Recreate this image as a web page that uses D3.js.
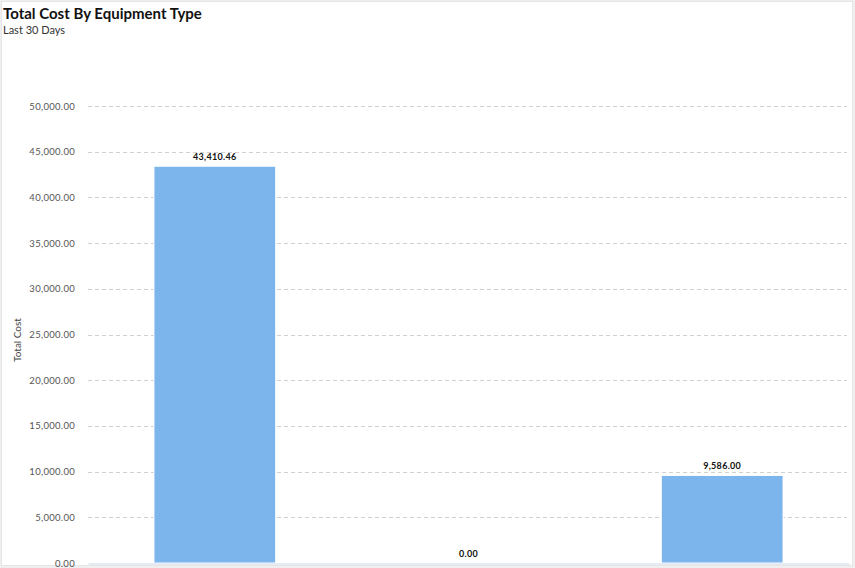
<!DOCTYPE html>
<html>
<head>
<meta charset="utf-8">
<script src="https://cdn.jsdelivr.net/npm/d3@7"></script>
<style>
  html, body { margin: 0; padding: 0; background: #efefef; }
  svg { display: block; font-family: Lato, "Open Sans", sans-serif; }
</style>
</head>
<body>
<svg id="chart" width="855" height="568"></svg>
<script>
// datos del gráfico
var categories = ["Equipment A", "Equipment B", "Equipment C"];
var totalCost = [43410.46, 0, 9586.00];
var yTicks = [0, 5000, 10000, 15000, 20000, 25000, 30000, 35000, 40000, 45000, 50000];

var svg = d3.select("#chart");

// fondo del widget
svg.append("rect")
    .attr("x", 1.5)
    .attr("y", 1.5)
    .attr("width", 851)
    .attr("height", 564)
    .attr("fill", "#ffffff")
    .attr("stroke", "#e6e6e6");

svg.append("text")
    .attr("x", 3)
    .attr("y", 19)
    .attr("font-size", "15px")
    .attr("font-weight", "bold")
    .attr("fill", "#111")
    .text("Total Cost By Equipment Type");

svg.append("text")
    .attr("x", 3)
    .attr("y", 34)
    .attr("font-size", "11px")
    .attr("fill", "#333")
    .text("Last 30 Days");

var x = d3.scaleBand()
    .domain(categories)
    .range([88, 849])
    .paddingInner(0.52)
    .paddingOuter(0.26);

var y = d3.scaleLinear()
    .domain([0, 50000])
    .range([563, 106]);

// líneas de guía
svg.append("g")
    .selectAll("line")
    .data(yTicks.slice(1))
    .enter()
    .append("line")
    .attr("x1", 88)
    .attr("x2", 847)
    .attr("y1", d => Math.round(y(d)) + 0.5)
    .attr("y2", d => Math.round(y(d)) + 0.5)
    .attr("stroke", "#d0d0d0")
    .attr("stroke-dasharray", "4,3");

// etiquetas eje Y
svg.append("g")
    .selectAll("text")
    .data(yTicks)
    .enter()
    .append("text")
    .attr("x", 75)
    .attr("y", d => y(d) + 3.5)
    .attr("text-anchor", "end")
    .attr("font-size", "9.5px")
    .attr("letter-spacing", "0.3px")
    .attr("fill", "#555")
    .text(d => d3.format(",.2f")(d));

svg.append("text")
    .attr("transform", "translate(21,340) rotate(-90)")
    .attr("text-anchor", "middle")
    .attr("font-size", "10px")
    .attr("fill", "#444")
    .text("Total Cost");

// barras
svg.selectAll("rect.bar")
    .data(totalCost)
    .enter()
    .append("rect")
    .attr("class", "bar")
    .attr("x", (d, i) => x(categories[i]))
    .attr("y", d => y(d))
    .attr("width", x.bandwidth())
    .attr("height", d => y(0) - y(d))
    .attr("fill", "#7cb5ec")
    .attr("stroke", "#ffffff")
    .attr("stroke-width", 1);

svg.selectAll("text.bar-label")
    .data(totalCost)
    .enter()
    .append("text")
    .attr("class", "bar-label")
    .attr("x", (d, i) => x(categories[i]) + x.bandwidth() / 2)
    .attr("y", d => y(d) - 6)
    .attr("text-anchor", "middle")
    .attr("font-size", "9px")
    .attr("font-weight", "bold")
    .attr("letter-spacing", "0.3px")
    .attr("fill", "#111")
    .text(d => d3.format(",.2f")(d));

// eje X: las etiquetas de categoría no se ven en la imagen, solo la línea base
svg.append("g")
    .attr("transform", "translate(0,563.5)")
    .call(d3.axisBottom(x).tickSize(0).tickFormat(""))
    .call(g => g.select(".domain").attr("stroke", "#ccd6eb"));
</script>
</body>
</html>
